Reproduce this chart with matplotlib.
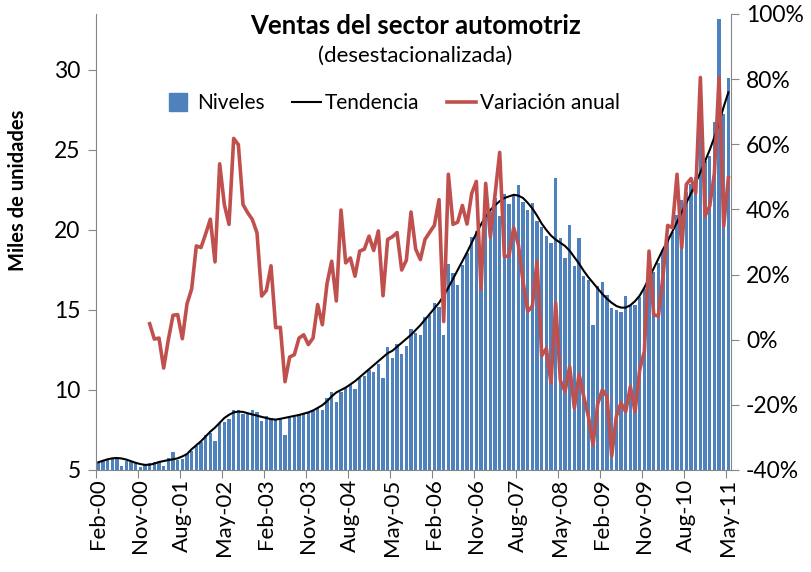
import numpy as np
import pandas as pd
import matplotlib
matplotlib.use('Agg')
import matplotlib.pyplot as plt
from matplotlib.lines import Line2D
from matplotlib.ticker import FuncFormatter, FixedLocator, NullFormatter

plt.rcParams['font.family'] = ['Lato', 'DejaVu Sans']

# ---------------- data ----------------
months = pd.date_range('2000-02-01', periods=136, freq='MS')
month_labels = [d.strftime('%b-%y') for d in months]

tick_labels = ['Feb-00', 'Nov-00', 'Aug-01', 'May-02', 'Feb-03', 'Nov-03', 'Aug-04',
               'May-05', 'Feb-06', 'Nov-06', 'Aug-07', 'May-08', 'Feb-09', 'Nov-09',
               'Aug-10', 'May-11']

niveles = [5.46, 5.56, 5.62, 5.77, 5.77, 5.25, 5.56, 5.52, 5.42, 5.21,
           5.31, 5.42, 5.48, 5.52, 5.25, 5.73, 6.15, 5.62, 5.67, 6.0,
           6.2, 6.5, 6.75, 7.2, 7.3, 6.8, 7.92, 8.02, 8.19, 8.75,
           8.75, 8.48, 8.48, 8.75, 8.6, 8.06, 8.4, 8.27, 8.13, 8.27,
           7.19, 8.27, 8.33, 8.44, 8.54, 8.6, 8.69, 8.85, 8.75, 9.5,
           9.85, 9.27, 9.9, 10.1, 10.35, 10.06, 10.77, 10.9, 11.25, 11.15,
           11.6, 10.77, 12.7, 12.02, 12.85, 12.27, 12.77, 13.8, 13.54, 13.44,
           14.54, 14.69, 15.42, 15.2, 13.44, 17.85, 17.29, 16.56, 17.81, 18.58,
           19.54, 19.94, 16.77, 20.94, 21.1, 22.02, 20.9, 22.23, 21.63, 22.19,
           22.8, 21.73, 21.25, 21.67, 20.56, 20.2, 19.65, 19.17, 23.23, 19.48,
           18.27, 20.31, 17.77, 19.48, 17.1, 16.88, 14.04, 16.5, 16.77, 15.94,
           15.15, 15.0, 14.87, 15.85, 15.33, 15.31, 15.8, 16.31, 16.77, 17.4,
           17.92, 18.75, 19.6, 19.9, 20.94, 21.9, 22.4, 22.9, 23.3, 28.96,
           24.31, 24.65, 26.73, 33.19, 27.23, 29.48]

tendencia = [5.48, 5.58, 5.67, 5.73, 5.75, 5.72, 5.65, 5.55, 5.45, 5.37,
             5.32, 5.33, 5.4, 5.5, 5.56, 5.62, 5.67, 5.73, 5.85, 6.0,
             6.3, 6.55, 6.8, 7.1, 7.4, 7.65, 7.95, 8.25, 8.45, 8.6,
             8.65, 8.63, 8.55, 8.47, 8.4, 8.32, 8.25, 8.18, 8.15, 8.2,
             8.26, 8.32, 8.38, 8.44, 8.52, 8.6, 8.72, 8.88, 9.05, 9.3,
             9.6, 9.85, 10.0, 10.15, 10.35, 10.55, 10.8, 11.05, 11.3, 11.55,
             11.8, 12.05, 12.3, 12.45, 12.7, 12.95, 13.2, 13.45, 13.75, 14.05,
             14.4, 14.75, 15.1, 15.45, 15.9, 16.4, 16.95, 17.5, 18.05, 18.6,
             19.2, 19.8, 20.35, 20.85, 21.25, 21.55, 21.8, 22.0, 22.1, 22.2,
             22.15, 22.0, 21.7, 21.35, 20.9, 20.4, 20.0, 19.65, 19.4, 19.2,
             19.0, 18.7, 18.3, 17.9, 17.45, 17.05, 16.7, 16.35, 16.0, 15.7,
             15.45, 15.25, 15.15, 15.15, 15.3, 15.55, 15.9, 16.4, 17.0, 17.6,
             18.2, 18.8, 19.3, 19.9, 20.5, 21.1, 21.7, 22.3, 22.95, 23.6,
             24.3, 25.0, 25.8, 26.7, 27.7, 28.6]

# annual variation (%), first months have no value
variacion_valores = [4.9, 0.2, 0.5, -8.7, 0.0, 7.5, 7.7, 0.3, 11.0,
                     15.6, 28.8, 28.3, 32.5, 37.0, 23.9, 54.0, 41.5, 35.4, 61.8,
                     59.9, 41.5, 39.0, 36.9, 32.8, 13.4, 15.1, 22.7, 3.7, 3.8,
                     -12.9, -5.3, -4.6, 0.5, 1.5, -1.5, 0.5, 10.8, 4.6, 17.2,
                     24.1, 11.9, 39.8, 23.6, 25.1, 19.5, 27.2, 27.8, 31.8, 27.4,
                     33.4, 13.5, 30.8, 31.6, 32.9, 21.4, 24.4, 39.2, 27.8, 24.6,
                     30.8, 33.0, 35.1, 43.0, 5.6, 50.8, 35.4, 36.1, 41.2, 35.5,
                     44.9, 48.6, 15.5, 48.0, 31.5, 44.5, 57.5, 25.5, 25.8, 34.4,
                     29.2, 17.9, 8.7, 10.3, 24.1, -4.9, -2.7, -13.3, 11.3, -12.5,
                     -15.9, -8.3, -21.0, -10.6, -17.4, -23.5, -32.3, -19.7, -15.4, -17.5,
                     -35.7, -23.5, -19.4, -22.1, -14.4, -22.1, -9.2, -3.6, 27.2, 7.7,
                     7.2, 19.5, 35.1, 34.4, 50.8, 28.2, 47.7, 49.5, 45.0, 80.5,
                     38.0, 41.0, 51.0, 80.5, 34.9, 49.7]
variacion = [np.nan] * (len(niveles) - len(variacion_valores)) + variacion_valores

# ---------------- plot ----------------
BLUE = '#4F81BD'
RED = '#C0504D'
GRAY = '#868686'

fig = plt.figure(figsize=(8.12, 5.72), dpi=100)
ax = fig.add_axes([96 / 812, 1 - 470 / 572, 634.7 / 812, 456 / 572])
x = np.arange(len(niveles))

ax.bar(x, niveles, width=0.74, color=BLUE, zorder=2, linewidth=0)
ax.plot(x, tendencia, color='black', lw=1.5, zorder=3)
ax.set_xlim(-0.5, len(x) - 0.5)
ax.set_ylim(5, 33.5)
ax.set_yticks([5, 10, 15, 20, 25, 30])

idx = [month_labels.index(t) for t in tick_labels]
ax.xaxis.set_major_locator(FixedLocator([i - 0.5 for i in idx]))
ax.xaxis.set_major_formatter(NullFormatter())
ax.xaxis.set_minor_locator(FixedLocator(idx))
ax.set_xticklabels(tick_labels, minor=True, rotation=90, fontsize=16)
ax.tick_params(axis='x', which='minor', length=0, pad=6)
ax.tick_params(axis='x', which='major', length=6, color=GRAY, direction='out')
ax.tick_params(axis='y', length=6, color=GRAY, direction='out', labelsize=16.5, pad=5)

for s in ['top', 'right']:
    ax.spines[s].set_visible(False)
for s in ['left', 'bottom']:
    ax.spines[s].set_color(GRAY)

ax.set_ylabel('Miles de unidades', fontsize=14.5, fontweight='bold')
ax.yaxis.set_label_coords(-0.107, 0.614)

ax2 = ax.twinx()
ax2.plot(x, variacion, color=RED, lw=2.6, zorder=4)
ax2.set_ylim(-40, 100)
ax2.set_yticks(list(range(-40, 101, 20)))
ax2.yaxis.set_major_formatter(FuncFormatter(lambda v, p: f'{v:.0f}%'))
ax2.tick_params(axis='y', length=6, color=GRAY, direction='out', labelsize=16.5, pad=5)
for s in ['top', 'left', 'bottom']:
    ax2.spines[s].set_visible(False)
ax2.spines['right'].set_color(GRAY)

ax2.text(0.503, 0.974, 'Ventas del sector automotriz', transform=ax.transAxes,
         ha='center', va='center', fontsize=18.5, fontweight='bold')
ax2.text(0.503, 0.908, '(desestacionalizada)', transform=ax.transAxes,
         ha='center', va='center', fontsize=16)

handles = [Line2D([], [], marker='s', ls='none', color=BLUE, markersize=13),
           Line2D([], [], color='black', lw=1.5),
           Line2D([], [], color=RED, lw=2.6)]
ax2.legend(handles, ['Niveles', 'Tendencia', 'Variación anual'], loc='center',
           bbox_to_anchor=(0.466, 0.805), ncol=3, frameon=False, fontsize=15,
           handlelength=1.4, handletextpad=0.2, columnspacing=1.3)

fig.savefig('out.png', dpi=100)
